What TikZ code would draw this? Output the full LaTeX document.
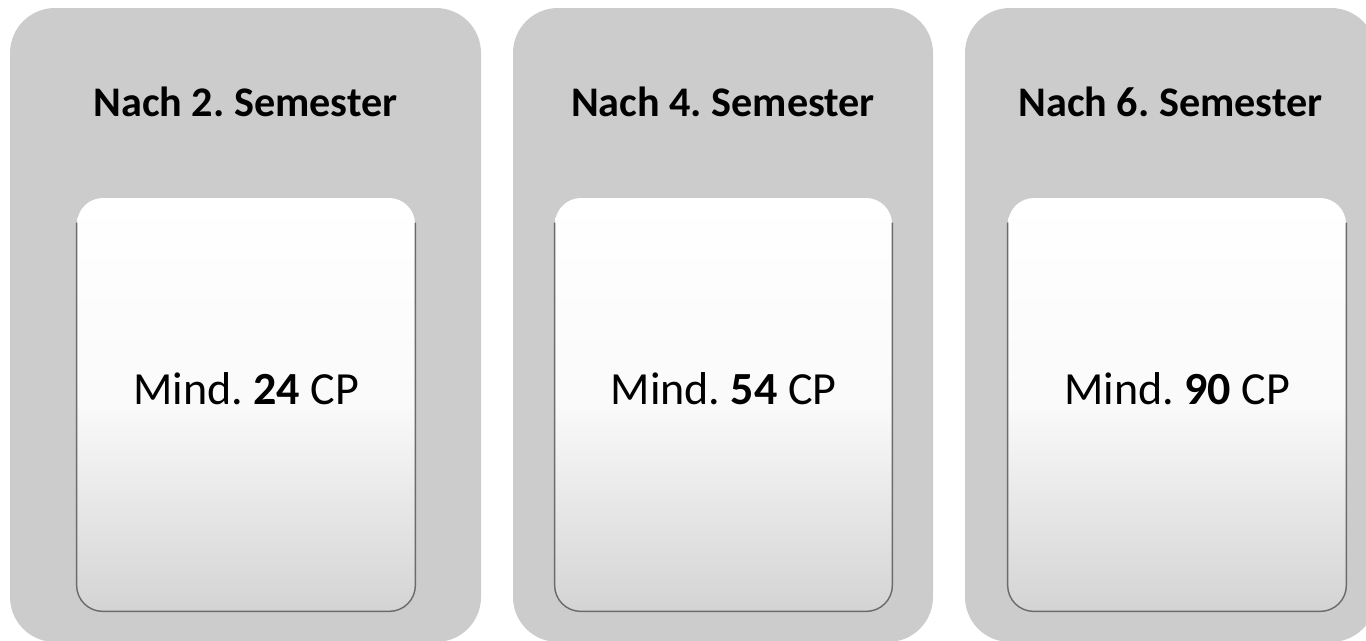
\documentclass[tikz,border=0pt]{standalone}
\usepackage{fontspec}
\setmainfont{Carlito}
\frenchspacing
\usetikzlibrary{fit}

\definecolor{panelgray}{HTML}{CCCCCC}

\tikzset{
  panel/.style={fill=panelgray, rounded corners=0.9cm, inner sep=0pt},
  card/.style={rounded corners=0.52cm, inner sep=0pt, top color=white, bottom color=black!17, middle color=white!98!black},
  bevel/.style={draw=black!58, line width=0.8pt, rounded corners=0.52cm},
  heading/.style={font=\fontsize{24}{29}\selectfont\bfseries, anchor=base, inner sep=0pt},
  credits/.style={font=\fontsize{26.2}{31}\selectfont, anchor=base, inner sep=0pt}
}

\begin{document}
\begin{tikzpicture}[x=0.02cm, y=-0.02cm]

\useasboundingbox (0,0) rectangle (1366,640);

\coordinate (headline) at (0,116);
\coordinate (cpline) at (0,404);

\foreach \i/\xl/\xr/\cl/\cr/\num in {2/10/481/77/415/24, 4/513/933/555/892/54, 6/965/1376/1008/1346/90} {
    \node[panel, fit={(\xl,8) (\xr,642)}] (panel\i) {};
    \node[card, fit={(\cl,198) (\cr,611)}] (card\i) {};
    \draw[bevel] ([yshift=-0.5cm]card\i.north west) -- (card\i.south west)
        -- (card\i.south east) -- ([yshift=-0.5cm]card\i.north east);
    \node[heading] (head\i) at (panel\i.center |- headline) {Nach \i. Semester};
    \node[credits] (cp\i) at (card\i.center |- cpline) {Mind. \textbf{\num} CP};
}

\end{tikzpicture}
\end{document}
